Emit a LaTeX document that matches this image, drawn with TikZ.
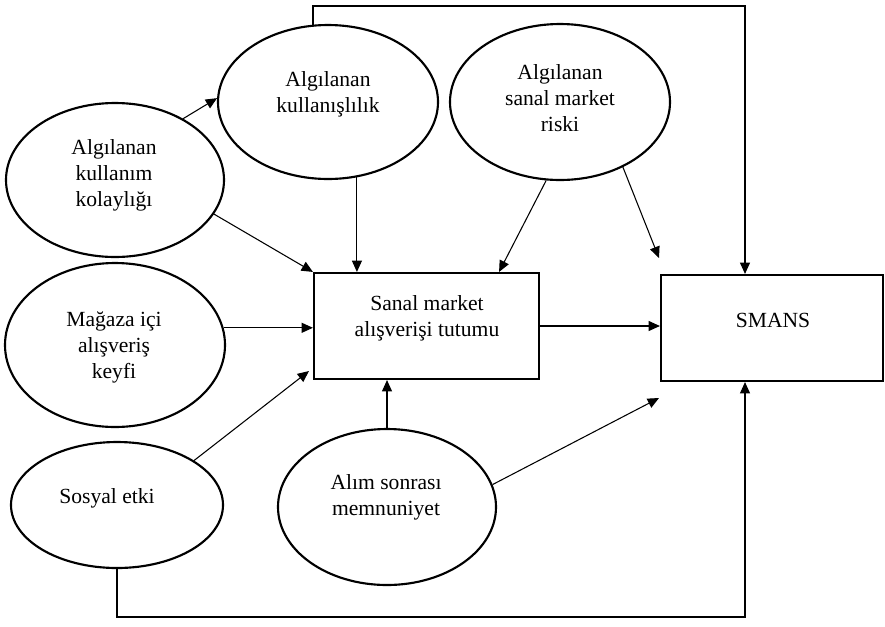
\documentclass[tikz,border=0pt]{standalone}
\usepackage{fontspec}
\setmainfont{Liberation Serif}
\usetikzlibrary{shapes.geometric,arrows.meta,calc}
\begin{document}
\begin{tikzpicture}[x=0.75pt,y=-0.75pt,
  oval/.style={draw,line width=1.6pt,ellipse,inner sep=0pt},
  boxnode/.style={draw,line width=1.6pt,rectangle,inner sep=0pt},
  lbl/.style={align=center,font=\fontsize{16.2}{19.5}\selectfont,inner sep=0pt},
  conn/.style={line width=0.8pt,-{Triangle[length=8.5pt,width=7.5pt]}}]
\useasboundingbox (0,0) rectangle (885,626);
% ellipses
\node[oval,minimum width=218*0.75pt,minimum height=154*0.75pt] (akk) at (115,180) {};
\node[oval,minimum width=220*0.75pt,minimum height=154*0.75pt] (ak) at (328,102) {};
\node[oval,minimum width=220*0.75pt,minimum height=156*0.75pt] (asr) at (560,102) {};
\node[oval,minimum width=220*0.75pt,minimum height=164*0.75pt] (mik) at (115,345) {};
\node[oval,minimum width=212*0.75pt,minimum height=126*0.75pt] (se) at (117,505) {};
\node[oval,minimum width=218*0.75pt,minimum height=156*0.75pt] (asm) at (387,507) {};
% boxes
\node[boxnode,minimum width=225*0.75pt,minimum height=106*0.75pt] (tutum) at (426.5,326) {};
\node[boxnode,minimum width=222*0.75pt,minimum height=106*0.75pt] (smans) at (772,328) {};
% texts
\node[lbl] (akkt) at (114,175) {Algılanan\\kullanım\\kolaylığı};
\node[lbl] (akt) at (328,94) {Algılanan\\kullanışlılık};
\node[lbl] (asrt) at (560,98) {Algılanan\\sanal market\\riski};
\node[lbl] (mikt) at (114,347) {Mağaza içi\\alışveriş\\keyfi};
\node[lbl] (set) at (107,498) {Sosyal etki};
\node[lbl] (asmt) at (386,497) {Alım sonrası\\memnuniyet};
\node[lbl] (tutumt) at (427,318) {Sanal market\\alışverişi tutumu};
\node[lbl] (smanst) at (773,320) {SMANS};
% helper coordinates
\coordinate (topR) at (745,6);
\coordinate (botR) at (745,617);
\coordinate (e1) at (659,258);
\coordinate (e2) at (659,398);
\coordinate (e3) at (309,371);
% connectors
\draw[conn] (akk.42.8) -- (ak.178);
\draw[conn] (akk.-19.8) -- (tutum.north west);
\draw[conn] (ak.-69.4) -- (ak.-69.4 |- tutum.north);
\draw[conn] (ak.101.9) |- (topR) -- (topR |- smans.north);
\draw[conn] (asr.-100) -- ($(tutum.north east)+(-41,0)$);
\draw[conn] (asr.-46.3) -- (e1);
\draw[conn] (tutum.east) -- (tutum.east -| smans.west);
\draw[conn] (mik.9) -- (mik.9 -| tutum.west);
\draw[conn] (se.30) -- (e3);
\draw[conn] (asm.north) -- (asm.north |- tutum.south);
\draw[conn] (asm.12) -- (e2);
\draw[conn] (se.south) |- (botR) -- (botR |- smans.south);
\end{tikzpicture}
\end{document}
